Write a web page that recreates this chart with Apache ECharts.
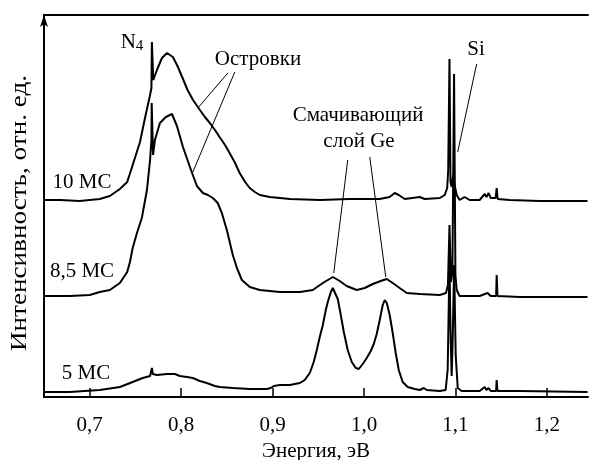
<!DOCTYPE html>
<html>
<head>
<meta charset="utf-8">
<script src="https://cdn.jsdelivr.net/npm/echarts@6/dist/echarts.min.js"></script>
<style>html,body{margin:0;padding:0;background:#fff;}#c{width:589px;height:460px;}</style>
</head>
<body>
<div id="c"></div>
<script>
// Energy (eV) and intensity (arb. units, offset) for each spectrum
var e10 = [0.65,0.6675,0.689,0.711,0.722,0.733,0.741,0.747,0.755,0.760,0.766,0.7675,0.768,0.769,0.7695,0.7735,0.779,0.7845,0.791,0.796,0.802,0.807,0.813,0.8205,0.826,0.8314,0.837,0.842,0.848,0.853,0.859,0.864,0.870,0.875,0.8806,0.886,0.897,0.919,0.952,0.984,1.017,1.028,1.0336,1.038,1.0445,1.061,1.0664,1.083,1.0883,1.091,1.0921,1.0935,1.0946,1.0959,1.0975,1.0991,1.1014,1.1045,1.110,1.1156,1.1265,1.132,1.134,1.1363,1.1385,1.144,1.1451,1.1462,1.159,1.192,1.2445];
var i10 = [197,197,196,198,201,208,215,232,255,277,302,309,355,355,317,327,339,344,340,331,318,307,297,287,280,274,267,260,252,244,234,224,215,209,205,202,200,198,197,198,198,200,204,202,198,200,198,199,202,209,227,338,215,210,222,212,202,197,200,197,197,203,200,204,199,199,209,198,197,196,196];

var e85 = [0.65,0.678,0.700,0.711,0.722,0.733,0.741,0.744,0.747,0.752,0.757,0.7626,0.766,0.7675,0.7678,0.7686,0.7693,0.7713,0.7768,0.7833,0.790,0.7954,0.802,0.8096,0.8172,0.8238,0.8292,0.8347,0.840,0.8445,0.850,0.8565,0.861,0.8664,0.8751,0.886,0.908,0.930,0.944,0.955,0.9659,0.9735,0.981,0.992,1.0008,1.0096,1.0183,1.0249,1.0314,1.039,1.0467,1.061,1.083,1.0897,1.0918,1.0935,1.0951,1.0967,1.0985,1.1,1.1014,1.1045,1.1265,1.1352,1.1385,1.1445,1.1451,1.146,1.1702,1.2445];
var i85 = [101,101,102,105,107,114,125,135,149,165,179,207,237,257,294,294,242,257,274,280,283,271,250,230,211,204,202,199,194,184,167,142,129,117,110,107,105,105,107,114,120,116,111,107,109,113,116,118,114,109,104,103,102,104,112,172,115,125,323,122,107,101,101,104,101,101,122,101,100,100];

var e5 = [0.65,0.678,0.711,0.733,0.747,0.758,0.766,0.7675,0.768,0.769,0.7735,0.7845,0.7932,0.7986,0.8063,0.8128,0.8205,0.828,0.8369,0.8423,0.8566,0.8751,0.8937,0.898,0.9014,0.908,0.9189,0.9298,0.9352,0.9407,0.945,0.9484,0.9516,0.955,0.9582,0.9604,0.9637,0.9659,0.968,0.9713,0.9746,0.9779,0.9822,0.9866,0.991,0.9943,0.9986,1.003,1.0074,1.0107,1.0139,1.0172,1.0205,1.0227,1.0249,1.0281,1.0314,1.0347,1.038,1.0423,1.0478,1.0555,1.061,1.0653,1.0686,1.0828,1.0893,1.0915,1.0935,1.0948,1.0959,1.097,1.0986,1.1003,1.1025,1.1068,1.1265,1.132,1.134,1.1363,1.1385,1.1445,1.1451,1.146,1.1702,1.2445];
var i5 = [5,5,7,10,15,19,21,21,29,23,22,23,23,21,20,19,16,14,11,10,9,8,8,9,11,12,12,14,17,24,35,47,60,72,87,95,105,109,107,98,82,65,47,35,29,28,33,39,46,53,63,77,92,97,94,82,64,44,27,15,10,8,7,9,7,6,7,27,134,57,21,57,132,42,9,6,6,10,7,9,6,6,17,6,6,5];

var xTicks = [0.7,0.8,0.9,1.0,1.1,1.2];
var xMin = 0.65, xMax = 1.245, yMin = 0, yMax = 382;

// Leader lines of annotations, in data coordinates
var leaderIslands = [[[0.8511,324],[0.8183,289]],[[0.8587,325],[0.8128,225]]];
var leaderWetting = [[[0.9822,237],[0.9669,124]],[[1.0063,240],[1.0238,120]]];
var leaderSi = [[[1.1232,333],[1.1025,245]]];

var FONT = '"Liberation Serif", "Times New Roman", serif';
var FS = 21;

function pairs(xs, ys){ return xs.map(function(x,i){ return [x, ys[i]]; }); }
function lineSeries(name, xs, ys, extra){
  var s = {name:name, type:'line', data:pairs(xs,ys), showSymbol:false, symbol:'none',
    lineStyle:{color:'#000', width:2}, animation:false, z:3};
  if (extra) for (var k in extra) s[k]=extra[k];
  return s;
}
function leaders(list){
  return {silent:true, symbol:['none','none'], animation:false,
    lineStyle:{color:'#000', width:1, type:'solid'}, label:{show:false},
    data:list.map(function(l){ return [{coord:l[0]},{coord:l[1]}]; })};
}

var chart = echarts.init(document.getElementById('c'), null, {renderer:'canvas'});
var txt = function(t, x, y){
  return {type:'text', z:10, style:{text:t, x:x, y:y, align:'center', verticalAlign:'middle', font:FS+'px '+FONT, fill:'#000'}};
};
chart.setOption({
  backgroundColor:'#fff',
  animation:false,
  grid:{left:44, right:1, top:15, bottom:63, containLabel:false, outerBoundsMode:'none'},
  xAxis:[{
    type:'value', min:xMin, max:xMax, position:'bottom',
    axisLine:{show:true, onZero:false, lineStyle:{color:'#000', width:2}},
    axisTick:{show:true, inside:true, length:9, customValues:xTicks, lineStyle:{color:'#000', width:1.5}},
    axisLabel:{show:true, customValues:xTicks, margin:18, color:'#000', fontFamily:FONT, fontSize:FS,
      formatter:function(v){ return v.toFixed(1).replace('.', ','); }},
    splitLine:{show:false},
    name:'Энергия, эВ', nameLocation:'middle', nameGap:41,
    nameTextStyle:{color:'#000', fontFamily:FONT, fontSize:FS}
  },{
    type:'value', min:xMin, max:xMax, position:'top',
    axisLine:{show:true, onZero:false, lineStyle:{color:'#000', width:2}},
    axisTick:{show:false}, axisLabel:{show:false}, splitLine:{show:false}
  }],
  yAxis:{
    type:'value', min:yMin, max:yMax,
    axisLine:{show:true, onZero:false, symbol:['none','arrow'], symbolSize:[6,12], lineStyle:{color:'#000', width:2}},
    axisTick:{show:false}, axisLabel:{show:false}, splitLine:{show:false}
  },
  series:[
    lineSeries('10 МС', e10, i10, {markLine: leaders(leaderIslands.concat(leaderSi))}),
    lineSeries('8,5 МС', e85, i85, {markLine: leaders(leaderWetting)}),
    lineSeries('5 МС', e5, i5)
  ],
  graphic:[
    {type:'text', z:10, x:20, y:213, rotation:Math.PI/2, scaleX:1.18, scaleY:1,
      style:{text:'Интенсивность, отн. ед.', x:0, y:0, align:'center', verticalAlign:'middle', font:'23px '+FONT, fill:'#000'}},
    {type:'text', z:10, style:{text:'{a|N}{b|4}', x:132, y:42, align:'center', verticalAlign:'middle',
      rich:{a:{font:FS+'px '+FONT, fill:'#000'}, b:{font:'15px '+FONT, fill:'#000', padding:[8,0,0,0]}}}},
    txt('Островки', 258, 59),
    txt('Смачивающий', 358, 115),
    txt('слой Ge', 359, 141),
    txt('Si', 476, 49),
    txt('10 МС', 82, 182),
    txt('8,5 МС', 82, 271),
    txt('5 МС', 86, 373)
  ]
});
</script>
</body>
</html>
